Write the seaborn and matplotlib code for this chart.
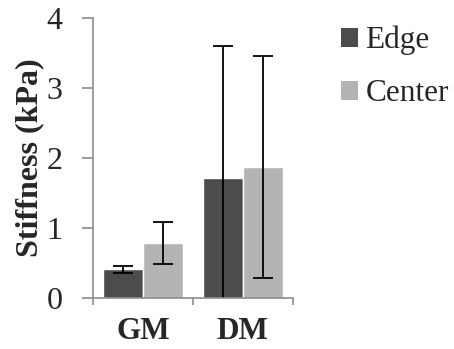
import matplotlib
matplotlib.use("Agg")
import matplotlib.pyplot as plt
import seaborn as sns
import pandas as pd
import numpy as np
from matplotlib.patches import Patch

categories = ["GM", "DM"]
series = ["Edge", "Center"]
edge_vals = [0.41, 1.71]
center_vals = [0.785, 1.875]
edge_err = [0.045, 1.89]
center_err = [0.30, 1.59]
yticks = [0, 1, 2, 3, 4]
colors = {"Edge": "#4c4c4c", "Center": "#b4b4b4"}

df = pd.DataFrame({
    "cat": categories * 2,
    "series": ["Edge"] * 2 + ["Center"] * 2,
    "val": edge_vals + center_vals,
    "err": edge_err + center_err,
})

sns.set_style("white")
plt.rcParams["font.family"] = ["Liberation Serif", "DejaVu Serif"]

fig = plt.figure(figsize=(4.54, 3.49), dpi=100)
ax = fig.add_axes([0.205, 0.146, 0.44, 0.802])

sns.barplot(data=df, x="cat", y="val", hue="series", order=categories,
            hue_order=series, palette=colors, errorbar=None, width=0.8,
            ax=ax, legend=False, saturation=1)

# error bars from bar positions
for container, s in zip(ax.containers, series):
    errs = df[df.series == s].set_index("cat").loc[categories, "err"].values
    vals = df[df.series == s].set_index("cat").loc[categories, "val"].values
    xs = [p.get_x() + p.get_width() / 2 for p in container.patches]
    ax.errorbar(xs, vals, yerr=errs, fmt="none", ecolor="black",
                elinewidth=1.3, capsize=7.5, capthick=1.3)

ax.set_ylim(0, 4)
ax.set_xlim(-0.5, 1.5)
ax.set_yticks(yticks)
ax.set_yticklabels([str(t) for t in yticks], fontsize=23)
ax.set_xlabel("")
ax.set_ylabel("Stiffness (kPa)", fontsize=23, fontweight="bold", labelpad=2)
for lab in ax.get_xticklabels():
    lab.set_fontweight("bold")
    lab.set_fontsize(22.5)

for sp in ["top", "right"]:
    ax.spines[sp].set_visible(False)
for sp in ["left", "bottom"]:
    ax.spines[sp].set_color("#8c8c8c")
    ax.spines[sp].set_linewidth(1.2)

ax.tick_params(axis="y", direction="out", length=8, width=1.2, color="#8c8c8c", left=True, pad=14)
ax.tick_params(axis="x", which="major", length=0, pad=14)
ax.set_xticks([-0.5, 0.5, 1.5], minor=True)
ax.tick_params(axis="x", which="minor", direction="out", length=5, width=1.2, color="#8c8c8c", bottom=True)

handles = [Patch(facecolor=colors[s], edgecolor="none", label=s) for s in series]
fig.legend(handles=handles, loc="upper left", bbox_to_anchor=(0.724, 0.962),
           frameon=False, fontsize=22.5, handlelength=0.55, handleheight=0.55,
           handletextpad=0.22, labelspacing=0.77, borderaxespad=0)

fig.savefig("out.png", dpi=100)
